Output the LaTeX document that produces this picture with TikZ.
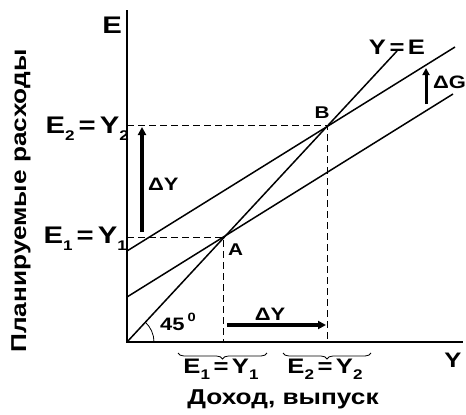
\documentclass[tikz,border=0pt]{standalone}
\usepackage{fontspec}
\setmainfont{Liberation Sans}[FakeStretch=1.22]
\usetikzlibrary{arrows.meta,decorations.pathreplacing}
\newcommand{\lowsub}[1]{\raisebox{-0.32em}{\fontsize{14}{14}\selectfont #1}}
\begin{document}
\begin{tikzpicture}[x=1pt,y=-1pt,
  axis/.style={line width=2pt},
  curve/.style={line width=1.5pt},
  guide/.style={line width=0.9pt, dash pattern=on 7pt off 4pt},
  bigarrow/.style={line width=4pt,-{Triangle[length=8pt,width=8pt]}},
  midarrow/.style={line width=3pt,-{Triangle[length=7pt,width=7pt]}},
  bracestyle/.style={line width=0.8pt, decorate, decoration={brace, mirror, amplitude=6pt}},
  biglbl/.style={inner sep=0pt, font=\fontsize{24}{24}\bfseries\selectfont},
  midlbl/.style={inner sep=0pt, font=\fontsize{21}{21}\bfseries\selectfont},
  smalllbl/.style={inner sep=0pt, font=\fontsize{18}{18}\bfseries\selectfont},
  ptlbl/.style={inner sep=0pt, font=\fontsize{17}{17}\bfseries\selectfont},
  titlelbl/.style={inner sep=0pt, font=\fontsize{21.5}{21.5}\bfseries\selectfont}]
\useasboundingbox (0,0) rectangle (466,415);
% key points
\coordinate (O) at (127,342);
\coordinate (Etop) at (127,10);
\coordinate (Xend) at (463,342);
\coordinate (A) at (223,237);
\coordinate (B) at (327,125);
\coordinate (YEend) at (397,51);
\coordinate (L1s) at (127,297);
\coordinate (L1e) at (453,94);
\coordinate (L2s) at (127,251);
\coordinate (L2e) at (455,47);
\coordinate (E2ax) at (127,125);
\coordinate (E1ax) at (127,237);
\coordinate (Afoot) at (223,342);
\coordinate (Bfoot) at (327,342);
% axes
\draw[axis] (Etop) -- (O) -- (Xend);
% lines
\draw[curve] (O) -- (YEend);
\draw[curve] (L1s) -- (L1e);
\draw[curve] (L2s) -- (L2e);
% guides
\draw[guide] (E2ax) -- (B) -- (Bfoot);
\draw[guide] (E1ax) -- (A) -- (Afoot);
% 45 arc
\draw[line width=0.8pt] (O) ++(27,0) arc[start angle=0, end angle=-48, radius=27];
% arrows
\coordinate (dYvs) at (142,232);
\coordinate (dYve) at (142,127);
\draw[bigarrow] (dYvs) -- (dYve);
\coordinate (dYhs) at (227,325);
\coordinate (dYhe) at (326,325);
\draw[bigarrow] (dYhs) -- (dYhe);
\coordinate (dGs) at (426,104);
\coordinate (dGe) at (426,68);
\draw[midarrow] (dGs) -- (dGe);
% braces
\coordinate (br1a) at (178,353);
\coordinate (br1b) at (267,353);
\coordinate (br2a) at (283,353);
\coordinate (br2b) at (371,353);
\draw[bracestyle] (br1a) -- (br1b);
\draw[bracestyle] (br2a) -- (br2b);
% labels
\node[biglbl, anchor=base east] (lE) at (122,33) {E};
\node[midlbl, anchor=base] (lY) at (453,367) {Y};
\node[biglbl, anchor=base east] (lE2) at (129,133) {E\lowsub{2}\,=\,Y\lowsub{2}};
\node[biglbl, anchor=base east] (lE1) at (127,243) {E\lowsub{1}\,=\,Y\lowsub{1}};
\node[midlbl, anchor=base] (lE1b) at (221,373) {E\lowsub{1}\,=\,Y\lowsub{1}};
\node[midlbl, anchor=base] (lE2b) at (325,373) {E\lowsub{2}\,=\,Y\lowsub{2}};
\node[midlbl, anchor=base] (lYE) at (397,54) {Y\,=\,E};
\node[smalllbl, anchor=base west] (ldG) at (433,88) {ΔG};
\node[smalllbl, anchor=base west] (ldYv) at (148,190) {ΔY};
\node[smalllbl, anchor=base] (ldYh) at (270,320) {ΔY};
\node[smalllbl, anchor=base west] (l45) at (160,330) {45\,\raisebox{0.45em}{\fontsize{12}{12}\selectfont 0}};
\node[ptlbl, anchor=base west] (lA) at (228,255) {A};
\node[ptlbl, anchor=base] (lB) at (322,118) {B};
\node[titlelbl, anchor=base] (lX) at (283,404) {Доход, выпуск};
\node[titlelbl, anchor=base, rotate=90] (lV) at (26,201) {Планируемые расходы};
\end{tikzpicture}
\end{document}
